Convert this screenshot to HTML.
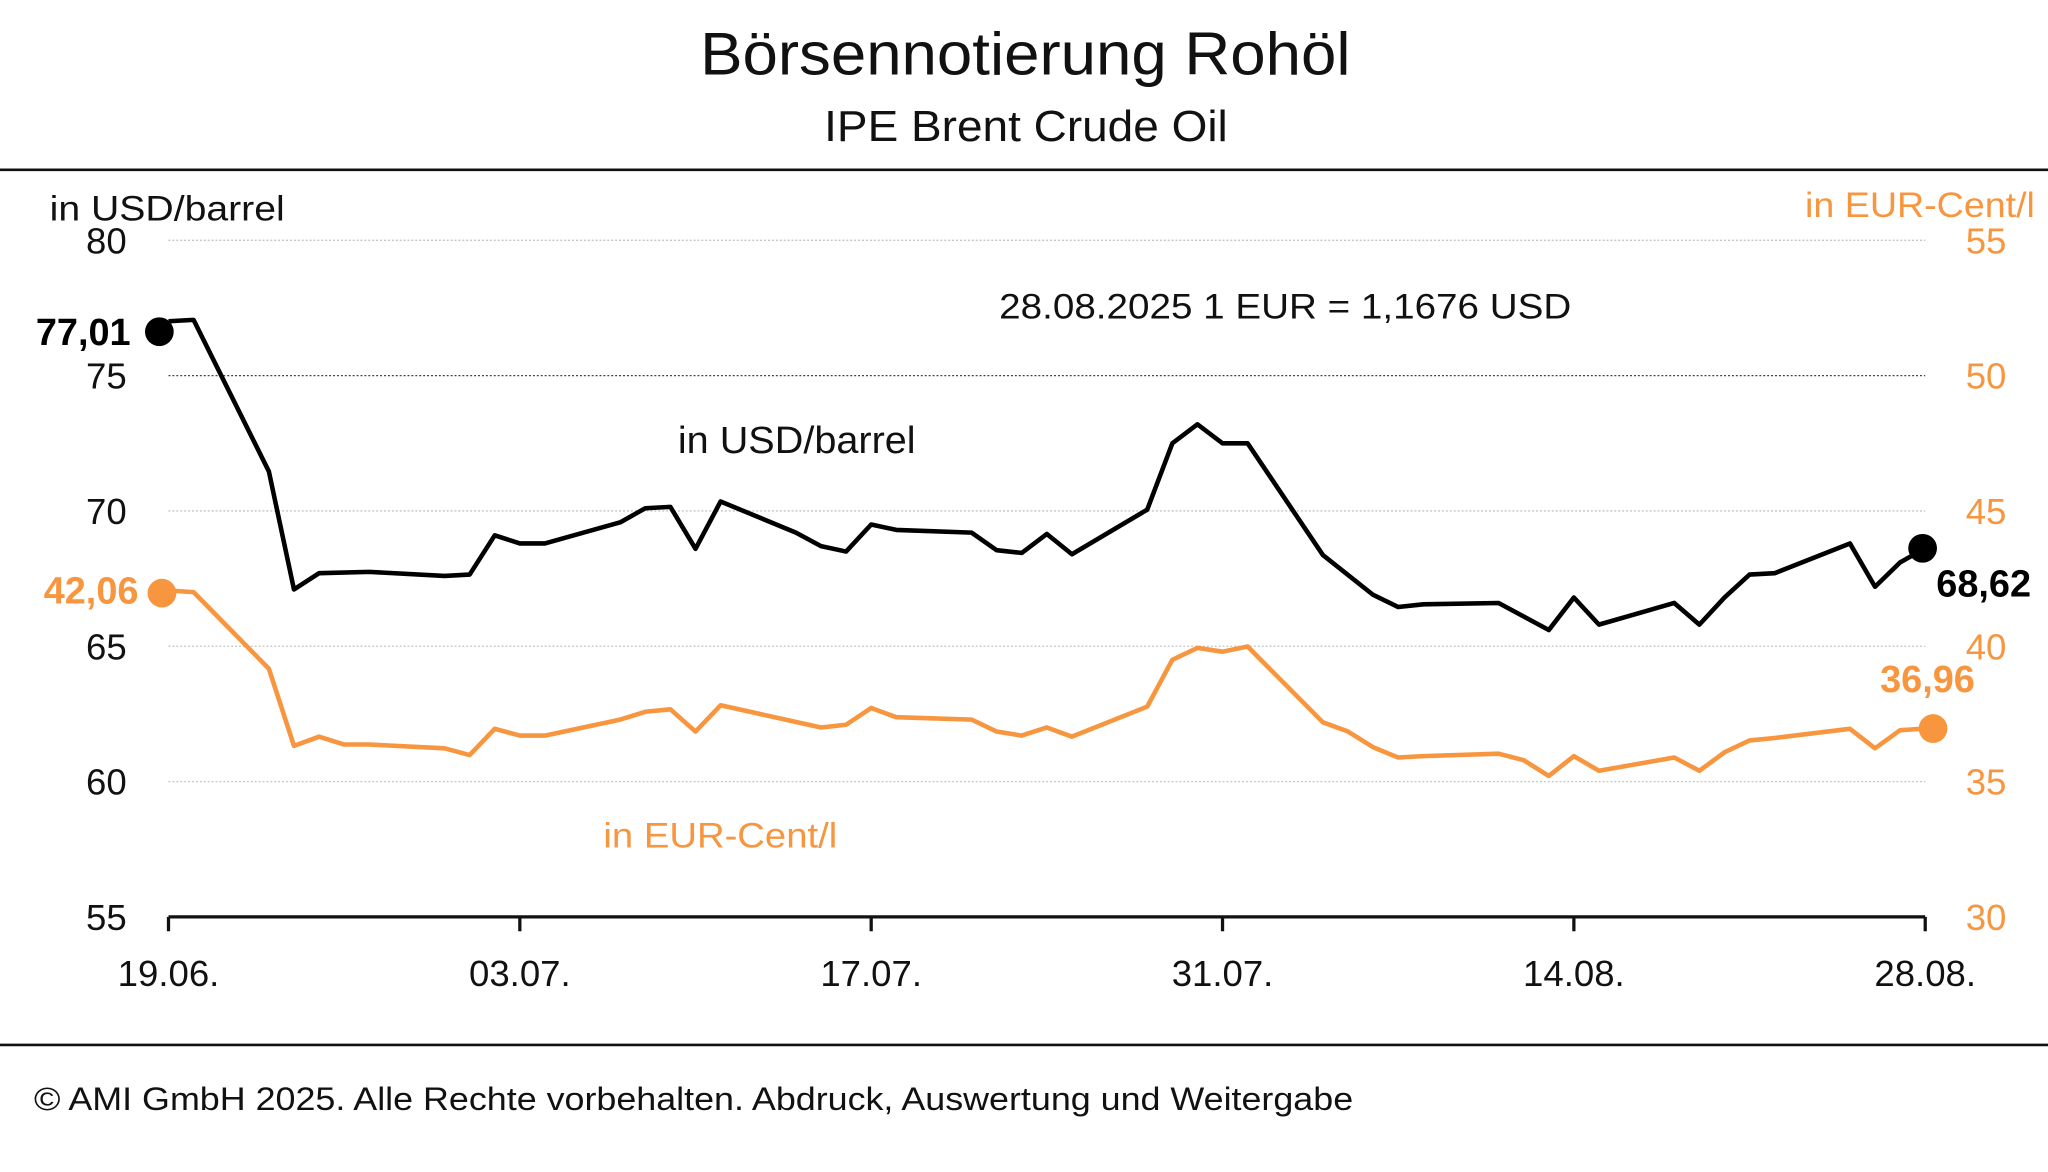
<!DOCTYPE html>
<html><head><meta charset="utf-8"><style>
html,body{margin:0;padding:0;background:#fff}
svg{display:block;font-family:"Liberation Sans",sans-serif}
</style></head><body>
<svg id="chart" width="2048" height="1172" viewBox="0 0 1568 897.3">
<text x="536" y="57" textLength="498" lengthAdjust="spacingAndGlyphs" font-size="46" fill="#111">Börsennotierung Rohöl</text>
<text x="631" y="108" textLength="309" lengthAdjust="spacingAndGlyphs" font-size="33" fill="#111">IPE Brent Crude Oil</text>
<line x1="0" y1="130" x2="1568" y2="130" stroke="#111" stroke-width="2"/>
<line x1="0" y1="800" x2="1568" y2="800" stroke="#111" stroke-width="2"/>
<text x="38" y="169" textLength="180" lengthAdjust="spacingAndGlyphs" font-size="27" fill="#111">in USD/barrel</text>
<text x="1382" y="166" textLength="176" lengthAdjust="spacingAndGlyphs" font-size="27" fill="#f7963f">in EUR-Cent/l</text>
<text x="765" y="244" textLength="438" lengthAdjust="spacingAndGlyphs" font-size="27" fill="#111">28.08.2025   1 EUR = 1,1676 USD</text>
<text x="519" y="347" textLength="182" lengthAdjust="spacingAndGlyphs" font-size="29" fill="#111">in USD/barrel</text>
<text x="462" y="649" textLength="179" lengthAdjust="spacingAndGlyphs" font-size="27" fill="#f7963f">in EUR-Cent/l</text>
<text x="26" y="850" textLength="1010" lengthAdjust="spacingAndGlyphs" font-size="25" fill="#111">© AMI GmbH 2025.  Alle Rechte vorbehalten. Abdruck, Auswertung und Weitergabe</text>
<g id="grid"></g><g id="axes"></g><g id="series"></g>
</svg>
<script>
const leftTicks=[80,75,70,65,60,55];
const rightTicks=[55,50,45,40,35,30];
const xTickDays=[0,14,28,42,56,70];
const xTickLabels=["19.06.","03.07.","17.07.","31.07.","14.08.","28.08."];
const usdDays=[0,1,4,5,6,8,11,12,13,14,15,18,19,20,21,22,25,26,27,28,29,32,33,34,35,36,39,40,41,42,43,46,48,49,50,53,54,55,56,57,60,61,62,63,64,67,68,69,70];
const usdValues=[77.01,77.06,71.46,67.1,67.7,67.75,67.6,67.65,69.1,68.8,68.8,69.58,70.1,70.15,68.6,70.35,69.2,68.7,68.5,69.5,69.3,69.2,68.55,68.45,69.15,68.4,70.05,72.5,73.2,72.5,72.5,68.37,66.9,66.45,66.55,66.6,66.1,65.6,66.8,65.8,66.6,65.8,66.8,67.65,67.7,68.8,67.2,68.1,68.62];
const eurDays=[0,1,4,5,6,7,8,11,12,13,14,15,18,19,20,21,22,26,27,28,29,32,33,34,35,36,39,40,41,42,43,46,47,48,49,50,53,54,55,56,57,60,61,62,63,64,67,68,69,70];
const eurValues=[42.06,42.0,39.17,36.32,36.66,36.37,36.37,36.23,35.98,36.95,36.7,36.7,37.29,37.58,37.67,36.85,37.82,37.0,37.1,37.72,37.38,37.29,36.85,36.7,37.0,36.66,37.77,39.5,39.94,39.8,39.99,37.19,36.85,36.27,35.89,35.94,36.03,35.79,35.21,35.94,35.4,35.89,35.4,36.08,36.52,36.61,36.95,36.23,36.9,36.96];
const usdStart="77,01",usdEnd="68,62",eurStart="42,06",eurEnd="36,96";
const NS="http://www.w3.org/2000/svg";
const X0=129,X1=1474,Y0=184,Y1=702;
const xs=d=>X0+(X1-X0)*d/70;
const yl=v=>Y0+(80-v)*(Y1-Y0)/25;
const yr=v=>Y0+(55-v)*(Y1-Y0)/25;
function mk(tag,attrs,parent,text){const e=document.createElementNS(NS,tag);for(const k in attrs)e.setAttribute(k,attrs[k]);if(text!==undefined)e.textContent=text;parent.appendChild(e);return e;}
const grid=document.getElementById('grid'),axes=document.getElementById('axes'),ser=document.getElementById('series');
leftTicks.forEach((v,i)=>{
  if(v!==55){const g=mk('line',{x1:X0,x2:X1,y1:yl(v),y2:yl(v),stroke:v===75?'#444':'#c4c4c4','stroke-width':1,'stroke-dasharray':'1.5 1.5'},grid);
  
  }
  const t=mk('text',{x:97,y:yl(v)+10,'text-anchor':'end','font-size':28,fill:'#111'},axes,String(v));
  
  
  const r=mk('text',{x:1505,y:yr(rightTicks[i])+10,'font-size':28,fill:'#f7963f'},axes,String(rightTicks[i]));
  
  
});
const xa=mk('line',{x1:X0,x2:X1,y1:Y1,y2:Y1,stroke:'#111','stroke-width':2.5},axes);


xTickDays.forEach((d,i)=>{
  const tk=mk('line',{x1:xs(d),x2:xs(d),y1:Y1,y2:Y1+11,stroke:'#111','stroke-width':2.5},axes);
  
  
  const t=mk('text',{x:xs(d),y:755,'text-anchor':'middle','font-size':28,fill:'#111'},axes,xTickLabels[i]);
  
  
});
function line(days,vals,yf,color,name){
  const p=mk('polyline',{points:days.map((d,i)=>xs(d)+','+yf(vals[i])).join(' '),fill:'none',stroke:color,'stroke-width':3.5,'stroke-linejoin':'round'},ser);
  
  
}
line(eurDays,eurValues,yr,'#f7963f','eur-cent-line');
line(usdDays,usdValues,yl,'#000','usd-barrel-line');
function dot(x,y,c,name){const e=mk('circle',{cx:x,cy:y,r:11,fill:c},ser);
  
  }
function lab(x,y,txt,c,anchor,name){const e=mk('text',{x:x,y:y,'text-anchor':anchor,'font-size':29,'font-weight':'bold',fill:c},ser,txt);
  
  }
dot(xs(0)-7,yl(usdValues[0])+8,'#000','usd-start-dot');
dot(xs(70)-2,yl(usdValues[usdValues.length-1]),'#000','usd-end-dot');
dot(xs(0)-5,yr(eurValues[0])+2,'#f7963f','eur-start-dot');
dot(xs(70)+6,yr(eurValues[eurValues.length-1]),'#f7963f','eur-end-dot');
lab(100,yl(usdValues[0])+18,usdStart,'#000','end','usd-start-value');
lab(1555,yl(usdValues[usdValues.length-1])+37,usdEnd,'#000','end','usd-end-value');
lab(106,yr(eurValues[0])+10,eurStart,'#f7963f','end','eur-start-value');
lab(1512,yr(eurValues[eurValues.length-1])-28,eurEnd,'#f7963f','end','eur-end-value');
</script>
</body></html>
